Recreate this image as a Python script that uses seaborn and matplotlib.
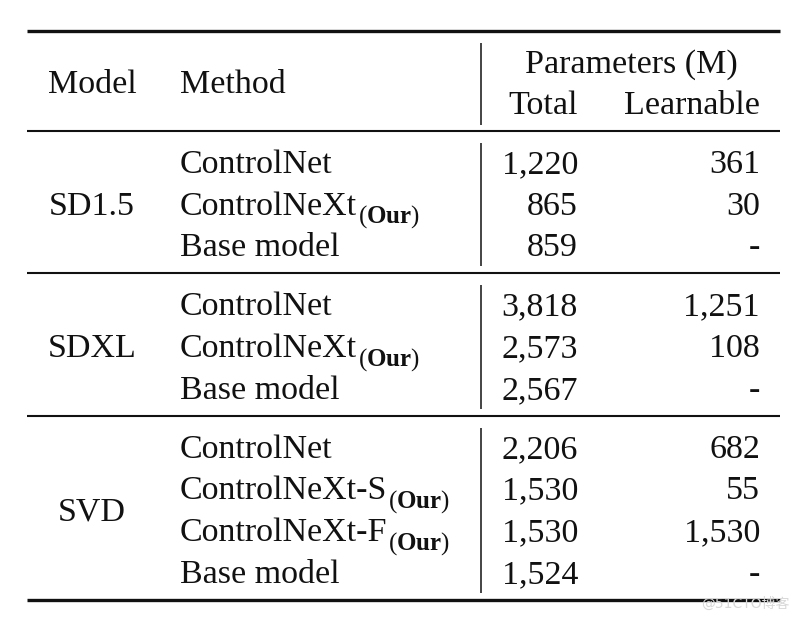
import matplotlib
matplotlib.use("Agg")
import matplotlib.pyplot as plt
import seaborn as sns

# ---- data ----
models = ["SD1.5", "SDXL", "SVD"]
methods = [
    ["ControlNet", "ControlNeXt", "Base model"],
    ["ControlNet", "ControlNeXt", "Base model"],
    ["ControlNet", "ControlNeXt-S", "ControlNeXt-F", "Base model"],
]
method_sub = [
    ["", "Our", ""],
    ["", "Our", ""],
    ["", "Our", "Our", ""],
]
total = [
    ["1,220", "865", "859"],
    ["3,818", "2,573", "2,567"],
    ["2,206", "1,530", "1,530", "1,524"],
]
learnable = [
    ["361", "30", "-"],
    ["1,251", "108", "-"],
    ["682", "55", "1,530", "-"],
]
header_cols = ["Model", "Method"]
header_group = "Parameters (M)"
header_sub = ["Total", "Learnable"]
watermark = "@51CTO博客"

sns.set_theme(style="white")
plt.rcParams["font.family"] = ["Liberation Serif", "DejaVu Serif"]
plt.rcParams["mathtext.fontset"] = "custom"
plt.rcParams["mathtext.rm"] = "Liberation Serif"
plt.rcParams["mathtext.it"] = "Liberation Serif:italic"
plt.rcParams["mathtext.bf"] = "Liberation Serif:bold"

W, H = 804, 619
fig = plt.figure(figsize=(W / 100, H / 100), dpi=100)
ax = fig.add_axes([0, 0, 1, 1])
ax.set_xlim(0, W)
ax.set_ylim(H, 0)
ax.axis("off")
renderer = fig.canvas.get_renderer()

fs = 24.5
fs_sub = 18
col = "#111111"
x_left, x_right = 27, 780
x_model, x_method, x_vline = 92, 180, 481
x_total, x_learn = 578, 760
x_params = 631

# top rule
ax.hlines(31, x_left, x_right, color=col, lw=2.4)
# header
ax.text(x_model, 93, header_cols[0], ha="center", va="baseline", fontsize=fs, color=col)
ax.text(x_method, 93, header_cols[1], ha="left", va="baseline", fontsize=fs, color=col)
ax.text(x_params, 73, header_group, ha="center", va="baseline", fontsize=fs, color=col)
ax.text(x_total, 114, header_sub[0], ha="right", va="baseline", fontsize=fs, color=col)
ax.text(x_learn, 114, header_sub[1], ha="right", va="baseline", fontsize=fs, color=col)
ax.vlines(x_vline, 43, 125, color=col, lw=1.1)
rule_y = 131
ax.hlines(rule_y, x_left, x_right, color=col, lw=1.5)

pitch = 41.7
for g, model in enumerate(models):
    n = len(methods[g])
    base = rule_y + 42
    for i in range(n):
        yb = base + i * pitch
        t = ax.text(x_method, yb, methods[g][i], ha="left", va="baseline", fontsize=fs, color=col)
        if method_sub[g][i]:
            bb = t.get_window_extent(renderer=renderer)
            ax.text(bb.x1 + 1, yb + 8, "$(\\mathbf{%s})$" % method_sub[g][i], ha="left",
                    va="baseline", fontsize=fs_sub, color=col)
        ax.text(x_total, yb, total[g][i], ha="right", va="baseline", fontsize=fs, color=col)
        ax.text(x_learn, yb, learnable[g][i], ha="right", va="baseline", fontsize=fs, color=col)
    ymid = base + (n - 1) * pitch / 2
    ax.text(x_model, ymid, model, ha="center", va="baseline", fontsize=fs, color=col)
    next_rule = base + (n - 1) * pitch + 17
    ax.vlines(x_vline, rule_y + 12, next_rule - 7, color=col, lw=1.1)
    last = g == len(models) - 1
    ax.hlines(next_rule, x_left, x_right, color=col, lw=2.4 if last else 1.5)
    rule_y = next_rule

ax.text(790, 604, watermark, ha="right", va="center", fontsize=10, color="#d8d8d8",
        family=["DejaVu Sans", "Noto Sans CJK SC"])

fig.savefig("out.png", dpi=100)
